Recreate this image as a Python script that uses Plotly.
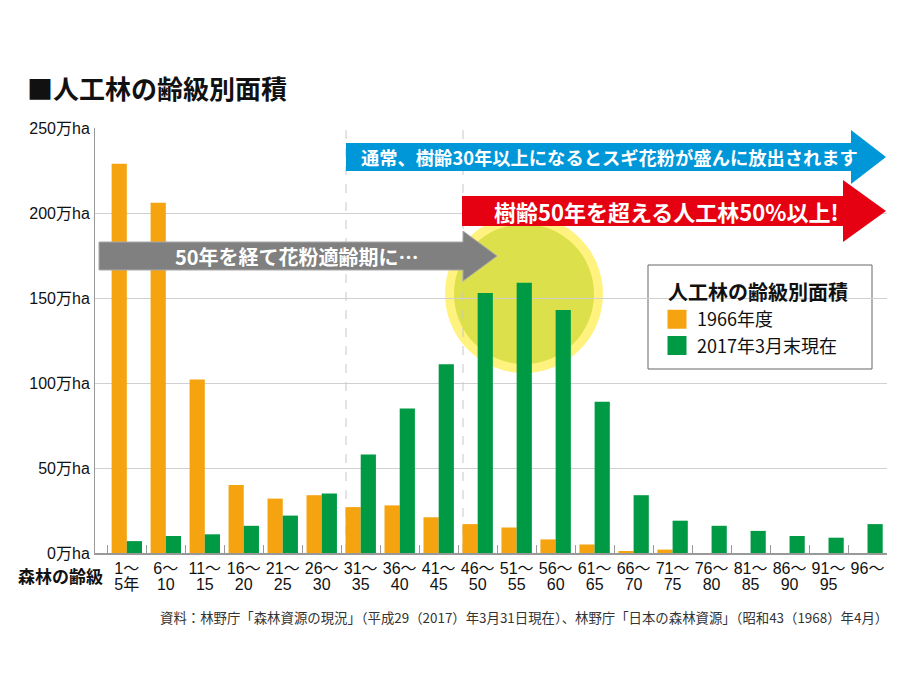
import plotly.graph_objects as go

# ---- data ----
age_from = ["1〜", "6〜", "11〜", "16〜", "21〜", "26〜", "31〜", "36〜", "41〜", "46〜",
            "51〜", "56〜", "61〜", "66〜", "71〜", "76〜", "81〜", "86〜", "91〜", "96〜"]
age_to = ["5年", "10", "15", "20", "25", "30", "35", "40", "45", "50",
          "55", "60", "65", "70", "75", "80", "85", "90", "95", ""]
area_1966 = [229, 206, 102, 40, 32, 34, 27, 28, 21, 17, 15, 8, 5, 1, 2, 0, 0, 0, 0, 0]
area_2017 = [7, 10, 11, 16, 22, 35, 58, 85, 111, 153, 159, 143, 89, 34, 19, 16, 13, 10, 9, 17]
y_ticks = [0, 50, 100, 150, 200, 250]
y_ticklabels = ["0万ha", "50万ha", "100万ha", "150万ha", "200万ha", "250万ha"]
series_names = ["1966年度", "2017年3月末現在"]

categories = [a + b for a, b in zip(age_from, age_to)]
tick_text = [f'<span style="font-size:16px">{a}</span><br><span style="font-size:16px">{b}</span>'
             for a, b in zip(age_from, age_to)]

ORANGE = "#f5a30e"
GREEN = "#009a44"
BASE_FONT = "Liberation Sans, Noto Sans CJK JP, sans-serif"
JP_FONT = "Noto Sans CJK JP, sans-serif"

# page has an 8px body margin: figure is drawn 8px right/down of window origin
OFF = 8
WIN_W, WIN_H = 904, 700
W, H = WIN_W - OFF, WIN_H - OFF
# plot-area geometry in window pixels (used only for decorations)
L, R, T, B = 95, 887, 128, 553


def px(x):
    return (x - L) / (R - L)


def py(y):
    return (B - y) / (B - T)


def arrow_path(x0, yt, yb, xh, yht, yhb, xtip, ytip):
    pts = [(x0, yt), (xh, yt), (xh, yht), (xtip, ytip), (xh, yhb), (xh, yb), (x0, yb)]
    return "M" + " L".join(f"{px(a):.5f},{py(b):.5f}" for a, b in pts) + " Z"


fig = go.Figure()
fig.add_trace(go.Bar(x=categories, y=area_1966, name=series_names[0],
                     marker=dict(color=ORANGE, line=dict(width=0)), showlegend=False))
fig.add_trace(go.Bar(x=categories, y=area_2017, name=series_names[1],
                     marker=dict(color=GREEN, line=dict(width=0)), showlegend=False))
# legend entries with larger swatches
for nm, col in zip(series_names, [ORANGE, GREEN]):
    fig.add_trace(go.Scatter(x=[None], y=[None], mode="markers", name=nm,
                             marker=dict(symbol="square", size=16, color=col,
                                         line=dict(color=col, width=3))))

shapes = []
# yellow circle
cx, cy = 524, 294
for r, col in [(79, "#fff27e"), (70, "#dce04b")]:
    shapes.append(dict(type="circle", xref="paper", yref="paper", layer="below",
                       x0=px(cx - r), x1=px(cx + r), y0=py(cy + r), y1=py(cy - r),
                       fillcolor=col, line=dict(width=0)))
# dashed guide lines
for xp in [346, 463]:
    shapes.append(dict(type="line", xref="paper", yref="paper", layer="between",
                       x0=px(xp), x1=px(xp), y0=0, y1=1,
                       line=dict(color="#c8c8c8", width=1, dash="dash")))
# legend box
shapes.append(dict(type="rect", xref="paper", yref="paper", layer="between",
                   x0=px(648), x1=px(872), y0=py(369), y1=py(265),
                   fillcolor="white", line=dict(color="#666", width=1)))
# arrows
shapes.append(dict(type="path", xref="paper", yref="paper", layer="above",
                   path=arrow_path(346, 143, 171, 851, 130, 184, 886, 157),
                   fillcolor="#0097d9", line=dict(width=0)))
shapes.append(dict(type="path", xref="paper", yref="paper", layer="above",
                   path=arrow_path(462, 196, 226, 843, 180, 242, 886, 211),
                   fillcolor="#e50012", line=dict(width=0)))
shapes.append(dict(type="path", xref="paper", yref="paper", layer="above",
                   path=arrow_path(99, 242, 270, 463, 231, 281, 497, 256),
                   fillcolor="#808080", line=dict(color="#a8a8a8", width=1)))

annotations = [
    dict(text="<b>■人工林の齢級別面積</b>", x=px(25), y=py(87), xref="paper", yref="paper",
         xanchor="left", yanchor="middle", showarrow=False,
         font=dict(family=JP_FONT, size=26, color="#111")),
    dict(text="<b>森林の齢級</b>", x=px(16), y=py(575), xref="paper", yref="paper",
         xanchor="left", yanchor="middle", showarrow=False,
         font=dict(family=JP_FONT, size=17, color="#111")),
    dict(text="資料：林野庁「森林資源の現況」（平成29（2017）年3月31日現在）、林野庁「日本の森林資源」（昭和43（1968）年4月）",
         x=px(890), y=py(617), xref="paper", yref="paper", xanchor="right", yanchor="middle",
         showarrow=False, font=dict(family=JP_FONT, size=13.4, color="#333")),
    dict(text="<b>通常、樹齢30年以上になるとスギ花粉が盛んに放出されます</b>",
         x=px(609), y=py(157), xref="paper", yref="paper", xanchor="center", yanchor="middle",
         showarrow=False, font=dict(family=JP_FONT, size=18.3, color="white")),
    dict(text="<b>樹齢50年を超える人工林50%以上!</b>",
         x=px(666), y=py(211), xref="paper", yref="paper", xanchor="center", yanchor="middle",
         showarrow=False, font=dict(family=JP_FONT, size=22, color="white")),
    dict(text="<b>50年を経て花粉適齢期に…</b>",
         x=px(297), y=py(256), xref="paper", yref="paper", xanchor="center", yanchor="middle",
         showarrow=False, font=dict(family=JP_FONT, size=20, color="white")),
    dict(text="<b>人工林の齢級別面積</b>", x=px(666), y=py(291), xref="paper", yref="paper",
         xanchor="left", yanchor="middle", showarrow=False,
         font=dict(family=JP_FONT, size=20, color="#111")),
]

fig.update_layout(
    width=W, height=H, autosize=False,
    margin=dict(l=L - OFF, r=WIN_W - R, t=T - OFF, b=WIN_H - B, pad=0),
    paper_bgcolor="white", plot_bgcolor="white",
    font=dict(family=BASE_FONT, color="#111"),
    barmode="group", bargap=0.22, bargroupgap=0,
    shapes=shapes, annotations=annotations,
    showlegend=True,
    legend=dict(x=px(657), y=py(301), xanchor="left", yanchor="top",
                bgcolor="rgba(0,0,0,0)", borderwidth=0,
                font=dict(family=JP_FONT, size=18, color="#111"),
                itemsizing="trace"),
)

fig.update_xaxes(
    type="category", range=[-0.816, 19.5],
    tickvals=categories, ticktext=tick_text, tickangle=0,
    tickfont=dict(family=BASE_FONT, size=12, color="#111"),
    ticks="inside", tickson="boundaries", ticklen=8, tickcolor="#999", tickwidth=1,
    ticklabelstandoff=5,
    showline=True, linecolor="#999", linewidth=1.5,
    showgrid=False, zeroline=False, fixedrange=True, automargin=False,
)
fig.update_yaxes(
    range=[0, 250], tickvals=y_ticks, ticktext=y_ticklabels,
    tickfont=dict(family=BASE_FONT, size=16, color="#111"),
    ticks="", ticklabelstandoff=1,
    showline=True, linecolor="#999", linewidth=1,
    showgrid=False, zeroline=False,
    minor=dict(tickvals=[50, 100, 150, 200], showgrid=True, gridcolor="#d0d0d0", gridwidth=1, ticks=""),
    fixedrange=True, automargin=False,
)

fig.write_html("out.html", config={"displayModeBar": False})
